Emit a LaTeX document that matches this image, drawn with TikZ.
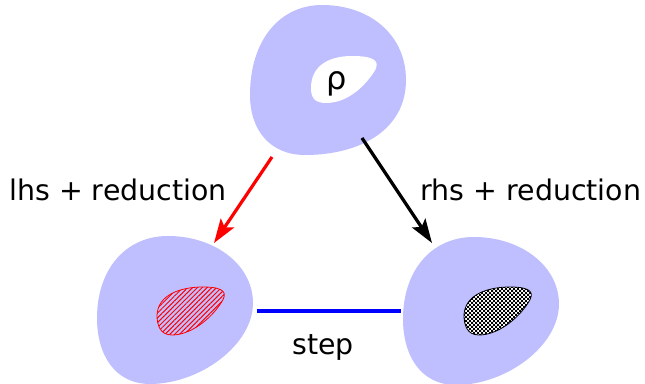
\documentclass[tikz,border=0pt]{standalone}
\usepackage{fontspec}
\setmainfont{DejaVu Sans}
\usepackage{tikz}
\usetikzlibrary{arrows.meta,patterns,patterns.meta}

\pgfdeclarepatternformonly{finecheck}{\pgfpointorigin}{\pgfqpoint{2pt}{2pt}}%
  {\pgfqpoint{2pt}{2pt}}{%
  \pgfpathrectangle{\pgfpointorigin}{\pgfqpoint{1pt}{1pt}}%
  \pgfpathrectangle{\pgfqpoint{1pt}{1pt}}{\pgfqpoint{1pt}{1pt}}%
  \pgfusepath{fill}}

% outlines of a lower state and of its marked region
\newcommand\lowblob{(168,236) .. controls (215,236) and (253,265) .. (253,303)
  .. controls (253,345) and (200,384) .. (150,384)
  .. controls (115,384) and (97,355) .. (97,318)
  .. controls (97,270) and (125,236) .. cycle}
\newcommand\lowspot{(157,315) .. controls (158,295) and (180,287) .. (203,287)
  .. controls (225,287) and (228,293) .. (221,303)
  .. controls (210,320) and (190,335) .. (172,335)
  .. controls (160,335) and (157,325) .. cycle}

\begin{document}
\begin{tikzpicture}[
  x=0.5pt,y=-0.5pt,
  every node/.style={font=\fontsize{14.2}{17}\selectfont,inner sep=0pt},
  blob/.style={fill=blue!25,draw=none},
  arr/.style={-{Stealth[length=12pt,width=8pt,inset=2.5pt]},line width=1.6pt}
]
\useasboundingbox (0,0) rectangle (645,384);

% the three states
\fill[blob] (322,5) .. controls (370,5) and (406,35) .. (406,80)
  .. controls (406,130) and (360,155) .. (305,155)
  .. controls (270,155) and (250,130) .. (250,95)
  .. controls (250,40) and (280,5) .. cycle;
\fill[blob] \lowblob;
\begin{scope}[xshift=153pt,yshift=-0.5pt]
\fill[blob] \lowblob;
\end{scope}

% inner regions
\fill[white] (311,88) .. controls (311,65) and (330,56) .. (352,56)
  .. controls (372,56) and (382,60) .. (374,72)
  .. controls (362,90) and (345,103) .. (326,103)
  .. controls (314,103) and (311,97) .. cycle;
\draw[red,line width=0.4pt,pattern={Lines[angle=45,distance=1.7pt,line width=0.5pt]},
  pattern color=red] \lowspot;
\begin{scope}[xshift=153.5pt]
\fill[white] \lowspot;
\draw[black,line width=0.4pt,pattern=finecheck,pattern color=black] \lowspot;
\end{scope}

\node[anchor=base,font=\fontsize{16}{18}\selectfont] (rho) at (337,90) {ρ};

% connector ends
\coordinate (topL) at (272,157);
\coordinate (topR) at (362,138);
\coordinate (lhsIn) at (214,243);
\coordinate (rhsIn) at (432,243);
\coordinate (stepL) at (257,311);
\coordinate (stepR) at (401,311);

\draw[arr,red] (topL) -- (lhsIn);
\draw[arr,black] (topR) -- (rhsIn);
\draw[blue,line width=2pt] (stepL) -- (stepR);

\node[anchor=base] (lhs) at (118,201) {lhs + reduction};
\node[anchor=base] (rhs) at (531,201) {rhs + reduction};
\node[anchor=base] (step) at (323,355) {step};
\end{tikzpicture}
\end{document}
